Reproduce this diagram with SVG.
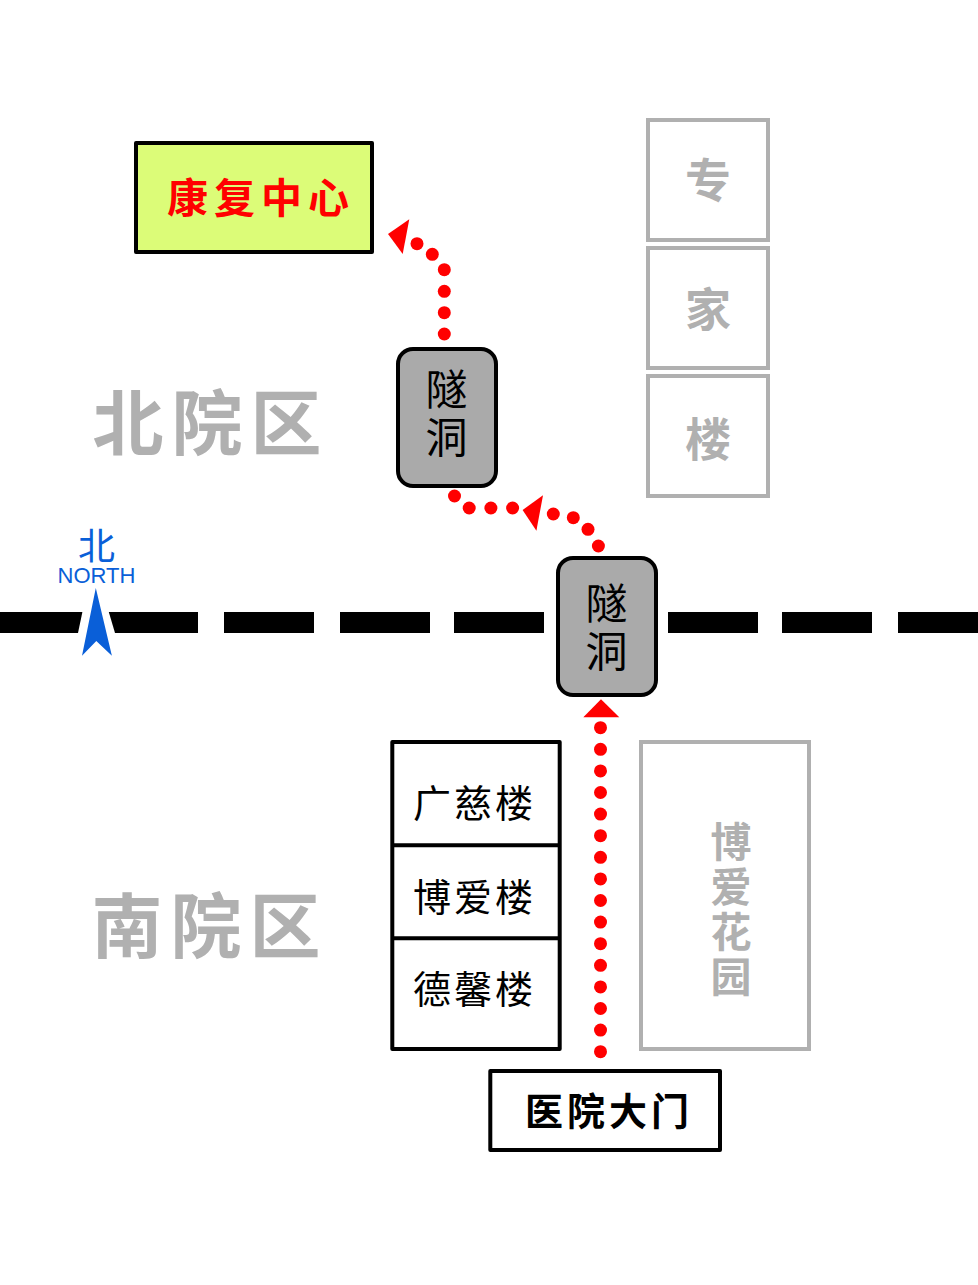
<svg xmlns="http://www.w3.org/2000/svg" width="978" height="1285" viewBox="0 0 978 1285">
<style>
text{font-family:"Noto Sans CJK SC","Liberation Sans",sans-serif;text-anchor:middle}
.blk{fill:#fff;stroke:#000;stroke-width:4;stroke-linejoin:round}
.gry{fill:#fff;stroke:#b0b0b0;stroke-width:4}
.tun{fill:#aaa;stroke:#000;stroke-width:4}
.t{font-size:38px;fill:#000}
.tt{font-size:42px;fill:#000;writing-mode:vertical-rl;text-anchor:start;letter-spacing:6px}
.b{font-weight:700}
.g{fill:#b0b0b0;font-weight:700}
.d{fill:#f00}
</style>
<rect width="978" height="1285" fill="#fff"/>
<g id="road" fill="#000">
<rect x="0" y="612" width="198" height="21"/><rect x="224" y="612" width="90" height="21"/><rect x="340" y="612" width="90" height="21"/><rect x="454" y="612" width="90" height="21"/><rect x="668" y="612" width="90" height="21"/><rect x="782" y="612" width="90" height="21"/><rect x="898" y="612" width="80" height="21"/>
</g>
<g id="north">
<polygon points="82.4,612 78,633 115,633 108.8,612" fill="#fff"/>
<polygon points="95.8,588 82,655.7 96.3,641 111.9,655.7" fill="#0a5fd8"/>
<text x="96.5" y="560" font-size="37" fill="#0a5fd8">北</text>
<text x="96.5" y="583" font-size="22" fill="#0a5fd8" style="font-family:'Liberation Sans',sans-serif">NORTH</text>
</g>
<g id="rehab"><rect x="136" y="143" width="236" height="109" fill="#dcfc78" stroke="#000" stroke-width="4" stroke-linejoin="round"/>
<text x="261" y="213" font-size="41" fill="#f00" class="b" letter-spacing="6">康复中心</text></g>
<g id="north-area"><text x="211" y="449" font-size="71" class="g" letter-spacing="8">北院区</text></g>
<g id="south-area"><text x="210" y="952" font-size="71" class="g" letter-spacing="8">南院区</text></g>
<g id="zj1"><rect x="648" y="120" width="120" height="120" class="gry"/><text x="708" y="197" font-size="46" class="g">专</text></g>
<g id="zj2"><rect x="648" y="248" width="120" height="120" class="gry"/><text x="708" y="326" font-size="46" class="g">家</text></g>
<g id="zj3"><rect x="648" y="376" width="120" height="120" class="gry"/><text x="708" y="456" font-size="46" class="g">楼</text></g>
<g id="tunnel1"><rect x="398" y="349" width="98" height="137" rx="15" class="tun"/><text x="446.5" y="368" class="tt">隧洞</text></g>
<g id="tunnel2"><rect x="558" y="558" width="98" height="137" rx="15" class="tun"/><text x="606.5" y="582" class="tt">隧洞</text></g>
<g id="buildings"><rect x="392.3" y="742" width="167.4" height="307" class="blk"/>
<path d="M392 845.3H560M392 938.3H560" stroke="#000" stroke-width="4" fill="none"/>
<text x="474.5" y="817" class="t" letter-spacing="3">广慈楼</text>
<text x="474.5" y="911" class="t" letter-spacing="3">博爱楼</text>
<text x="474.5" y="1003" class="t" letter-spacing="3">德馨楼</text></g>
<g id="garden"><rect x="641" y="742" width="168" height="307" class="gry"/>
<text x="731" y="821" font-size="41" class="g" letter-spacing="4" style="writing-mode:vertical-rl;text-anchor:start">博爱花园</text></g>
<g id="gate"><rect x="490.3" y="1071" width="229.7" height="79" class="blk"/>
<text x="609" y="1125" font-size="38" class="b" letter-spacing="4">医院大门</text></g>
<g id="connectors" class="d">
<g id="route1">
<circle cx="600.5" cy="1051.7" r="6.5"/><circle cx="600.5" cy="1030.1" r="6.5"/><circle cx="600.5" cy="1008.5" r="6.5"/><circle cx="600.5" cy="986.9" r="6.5"/><circle cx="600.5" cy="965.3" r="6.5"/><circle cx="600.5" cy="943.7" r="6.5"/><circle cx="600.5" cy="922.1" r="6.5"/><circle cx="600.5" cy="900.5" r="6.5"/><circle cx="600.5" cy="878.9" r="6.5"/><circle cx="600.5" cy="857.3" r="6.5"/><circle cx="600.5" cy="835.7" r="6.5"/><circle cx="600.5" cy="814.1" r="6.5"/><circle cx="600.5" cy="792.5" r="6.5"/><circle cx="600.5" cy="770.9" r="6.5"/><circle cx="600.5" cy="749.3" r="6.5"/><circle cx="600.5" cy="727.7" r="6.5"/>
<polygon points="601,699.3 583.3,717.3 619.3,717.3"/></g>
<g id="route2">
<circle cx="598.4" cy="546" r="6.5"/><circle cx="588" cy="529.3" r="6.5"/><circle cx="573.3" cy="517.7" r="6.5"/><circle cx="553.3" cy="514" r="6.5"/>
<polygon points="522.6,510 543,495.3 536.4,530.7"/>
<circle cx="512.6" cy="508" r="6.5"/><circle cx="490.9" cy="508" r="6.5"/><circle cx="469.2" cy="508" r="6.5"/><circle cx="454.5" cy="496" r="6.5"/></g>
<g id="route3">
<circle cx="444.3" cy="334" r="6.5"/><circle cx="444.3" cy="312.7" r="6.5"/><circle cx="444.3" cy="291.3" r="6.5"/><circle cx="444.3" cy="269.7" r="6.5"/><circle cx="432.3" cy="254.3" r="6.5"/><circle cx="417" cy="243.7" r="6.5"/>
<polygon points="388,234 409.3,219.3 402.7,254"/></g>
</g>
</svg>
